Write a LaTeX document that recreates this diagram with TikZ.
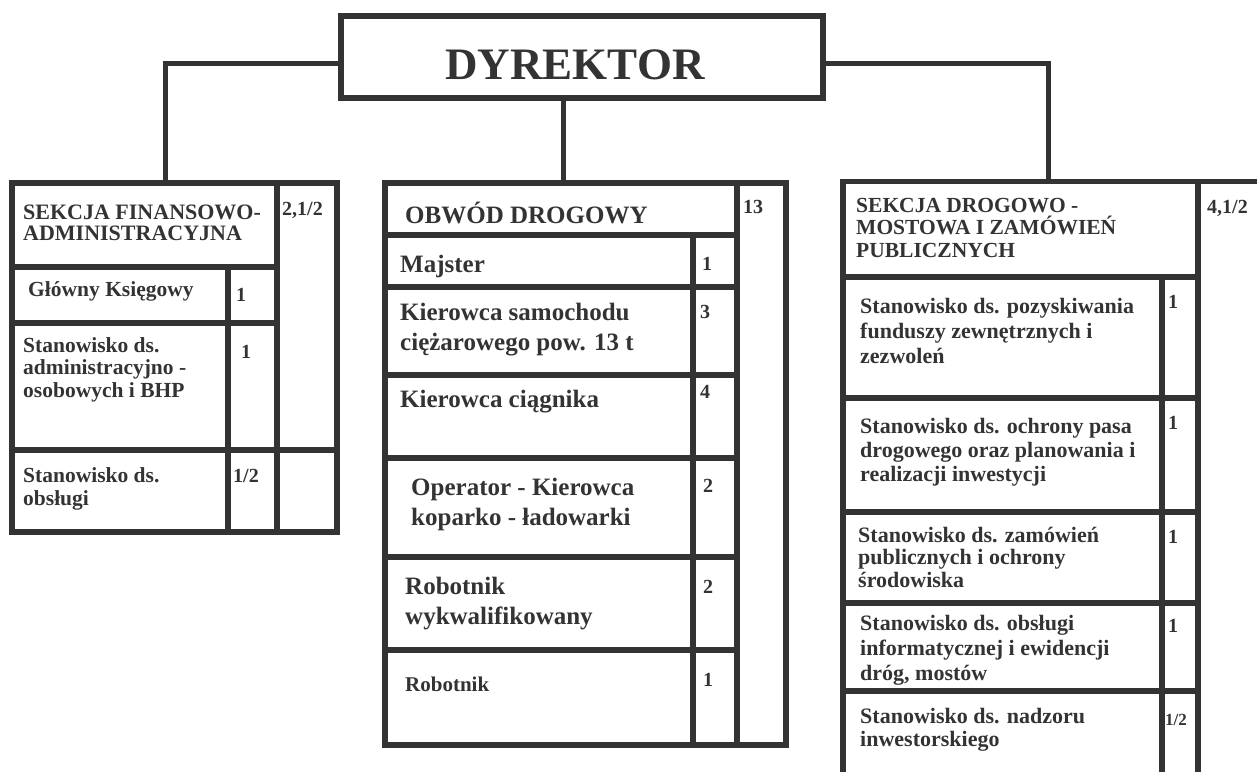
\documentclass[tikz,border=0pt]{standalone}
\usepackage{fontspec}
\setmainfont{Liberation Serif}
\usepackage{xcolor}
\colorlet{ink}{black!80}

\tikzset{
  frame/.style={draw=ink, line width=5.5pt},
  link/.style={draw=ink, line width=5pt},
  boxnode/.style={frame, anchor=north west, inner sep=0pt, outer sep=0pt},
  txt/.style={anchor=base west, inner sep=0pt, align=left, text=ink},
  lhead/.style={txt, font=\fontsize{22}{21}\selectfont\bfseries},
  lbody/.style={txt, font=\fontsize{21.5}{22.5}\selectfont\bfseries},
  mbody/.style={txt, font=\fontsize{25}{30}\selectfont\bfseries},
  rhead/.style={txt, font=\fontsize{21.5}{22.5}\selectfont\bfseries},
  rbody/.style={txt, font=\fontsize{22}{25}\selectfont\bfseries},
  num/.style={txt, font=\fontsize{20}{20}\selectfont\bfseries}
}

\begin{document}
\begin{tikzpicture}[x=1pt, y=-1pt]
\useasboundingbox (0,0) rectangle (1257,771);
\clip (0,0) rectangle (1257,771);

% Dyrektor
\node[boxnode, line width=6.5pt, minimum width=482pt, minimum height=82pt] (dyr) at (341,16) {};
\node[font=\fontsize{45}{45}\selectfont\bfseries, text=ink, inner sep=0pt] (dyrLbl) at (575,65) {DYREKTOR};

% Ramki zewnetrzne
\node[boxnode, minimum width=325pt, minimum height=349pt] (fin) at (12,183) {};
\node[boxnode, minimum width=401pt, minimum height=562pt] (obw) at (385,183) {};
\node[boxnode, minimum width=420pt, minimum height=600pt] (drog) at (843,181.5) {};

% Polaczenia
\draw[link] ([yshift=-6pt]dyr.west) -| ([xshift=153pt]fin.north west);
\draw[link] ([yshift=-6pt]dyr.east) -| ([xshift=205pt]drog.north west);
\draw[link] ([xshift=178pt]obw.north west |- dyr.south) -- ([xshift=178pt]obw.north west);

% Sekcja finansowo-administracyjna
\draw[frame] (12,183) rectangle (277,267);
\draw[frame] (277,183) rectangle (337,450);
\draw[frame] (277,450) rectangle (337,532);
\foreach \ya/\yb in {267/323, 323/450, 450/532} {
  \draw[frame] (12,\ya) rectangle (228,\yb);
  \draw[frame] (228,\ya) rectangle (277,\yb);
}

% Obwod drogowy
\draw[frame] (385,183) rectangle (737,235);
\draw[frame] (737,183) rectangle (786,745);
\foreach \ya/\yb in {235/287, 287/375, 375/458, 458/557, 557/650, 650/745} {
  \draw[frame] (385,\ya) rectangle (693,\yb);
  \draw[frame] (693,\ya) rectangle (737,\yb);
}

% Sekcja drogowo-mostowa
\draw[frame] (843,181.5) rectangle (1198,277);
\foreach \ya/\yb in {277/398, 398/512, 512/603, 603/691, 691/790} {
  \draw[frame] (843,\ya) rectangle (1162,\yb);
  \draw[frame] (1162,\ya) rectangle (1198,\yb);
}

% Etykiety - lewa (base = ostatnia linia)
\node[lhead] (finLbl) at (23,240) {SEKCJA FINANSOWO-\\ADMINISTRACYJNA};
\node[num] (finN) at (282,215) {2,1/2};
\node[lbody] (ksieg) at (28,296) {Główny Księgowy};
\node[num] (ksiegN) at (236,301) {1};
\node[lbody] (admin) at (23,397) {Stanowisko ds.\\administracyjno -\\osobowych i BHP};
\node[num] (adminN) at (241,358) {1};
\node[lbody] (obsl) at (23,505) {Stanowisko ds.\\obsługi};
\node[num] (obslN) at (233,482) {1/2};

% Etykiety - srodek
\node[mbody] (obwLbl) at (405,223) {OBWÓD DROGOWY};
\node[num] (obwN) at (743,213) {13};
\node[mbody] (majster) at (400,272) {Majster};
\node[num] (majsterN) at (702,270) {1};
\node[mbody] (kierS) at (400,350) {Kierowca samochodu\\ciężarowego pow. 13 t};
\node[num] (kierSN) at (700,318) {3};
\node[mbody] (kierC) at (400,407) {Kierowca ciągnika};
\node[num] (kierCN) at (700,398) {4};
\node[mbody] (oper) at (411,525) {Operator - Kierowca\\koparko - ładowarki};
\node[num] (operN) at (703,492) {2};
\node[mbody] (robW) at (405,624) {Robotnik\\wykwalifikowany};
\node[num] (robWN) at (703,593) {2};
\node[txt, font=\fontsize{21}{21}\selectfont\bfseries] (rob) at (405,691) {Robotnik};
\node[num] (robN) at (703,686) {1};

% Etykiety - prawa
\node[rhead] (drogLbl) at (856,257) {SEKCJA DROGOWO -\\MOSTOWA I ZAMÓWIEŃ\\PUBLICZNYCH};
\node[num] (drogN) at (1207,213) {4,1/2};
\node[rbody] (fund) at (860,363) {Stanowisko ds. pozyskiwania\\funduszy zewnętrznych i\\zezwoleń};
\node[num] (fundN) at (1168,308) {1};
\node[rbody, font=\fontsize{22}{24}\selectfont\bfseries] (pas) at (860,481) {Stanowisko ds. ochrony pasa\\drogowego oraz planowania i\\realizacji inwestycji};
\node[num] (pasN) at (1168,429) {1};
\node[rbody, font=\fontsize{22}{22.5}\selectfont\bfseries] (zam) at (858,587) {Stanowisko ds. zamówień\\publicznych i ochrony\\środowiska};
\node[num] (zamN) at (1168,543) {1};
\node[rbody] (inf) at (860,680) {Stanowisko ds. obsługi\\informatycznej i ewidencji\\dróg, mostów};
\node[num] (infN) at (1168,632) {1};
\node[rbody, font=\fontsize{22}{23}\selectfont\bfseries] (nadz) at (860,746) {Stanowisko ds. nadzoru\\inwestorskiego};
\node[num, font=\fontsize{17}{17}\selectfont\bfseries] (nadzN) at (1165,725) {1/2};

\end{tikzpicture}
\end{document}
